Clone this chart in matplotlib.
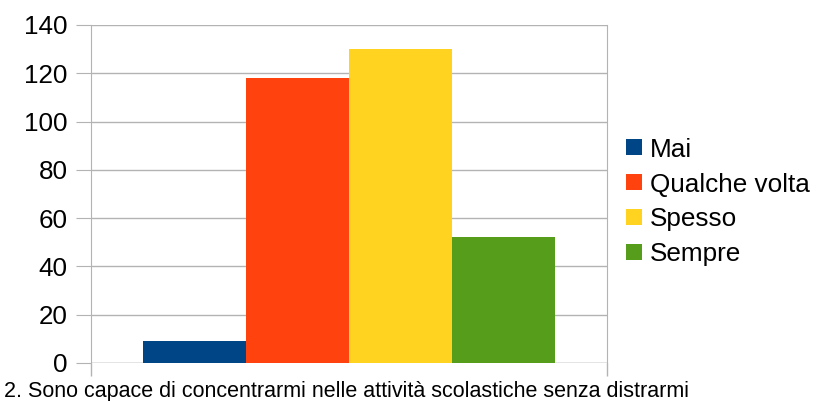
import matplotlib.pyplot as plt
from matplotlib.patches import Patch

plt.rcParams['font.family'] = ['Liberation Sans', 'DejaVu Sans']

series = ["Mai", "Qualche volta", "Spesso", "Sempre"]
values = [9, 118, 130, 52]
colors = ["#004586", "#ff420e", "#ffd320", "#579d1c"]
category = "2. Sono capace di concentrarmi nelle attività scolastiche senza distrarmi"
yticks = [0, 20, 40, 60, 80, 100, 120, 140]

fig = plt.figure(figsize=(8.16, 4.01), dpi=100)
ax = fig.add_axes([91/816, 1-363/401, 516/816, 338/401])

w = 0.2
for i, (v, c) in enumerate(zip(values, colors)):
    ax.bar(0.1 + w*i, v, width=w, align='edge', color=c, zorder=3)

ax.set_xlim(0, 1)
ax.set_ylim(0, 140)
ax.set_yticks(yticks)
ax.set_xticks([0, 1])
ax.set_xticklabels(["", ""])
ax.grid(axis='y', color='#b3b3b3', lw=1, zorder=0)
ax.tick_params(axis='y', length=11, color='#b3b3b3', labelsize=18.7, pad=6)
ax.tick_params(axis='x', length=9, color='#b3b3b3', width=1)
ax.spines['top'].set_visible(False)
ax.spines['bottom'].set_visible(False)
for s in ['left', 'right']:
    ax.spines[s].set_color('#b3b3b3')
ax.axhline(0, color='#b3b3b3', lw=1, zorder=1)

fig.text(4/816, 1-391/401, category, fontsize=15.5, va='center', ha='left')

handles = [Patch(facecolor=c, edgecolor='none') for c in colors]
fig.legend(handles, series, loc='center left', bbox_to_anchor=(626/816, 1-202/401),
           frameon=False, fontsize=18.8, handlelength=0.61, handleheight=0.55,
           handletextpad=0.31, labelspacing=0.42, borderpad=0, borderaxespad=0)

fig.savefig("out.png", dpi=100)
